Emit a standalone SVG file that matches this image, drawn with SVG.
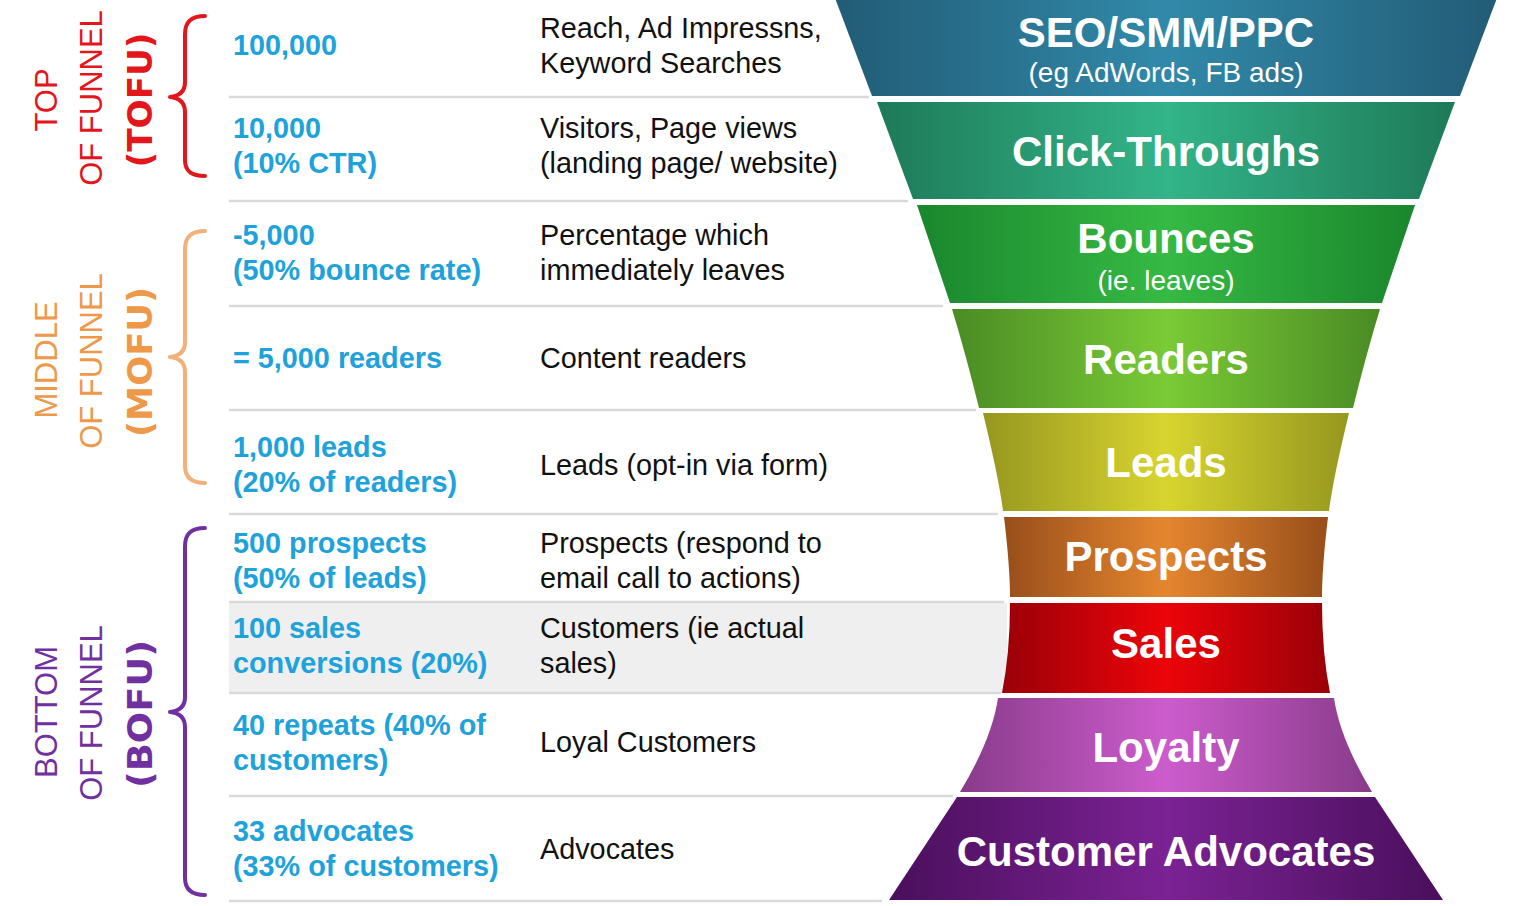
<svg xmlns="http://www.w3.org/2000/svg" width="1520" height="906" viewBox="0 0 1520 906">
<style>
.bg{fill:#ffffff}
.sep{stroke:#d9d9d9;stroke-width:2.5;fill:none}
.num{font-family:"Liberation Sans",Arial,sans-serif;font-weight:bold;font-size:28.8px;fill:#1ea2dc}
.desc{font-family:"Liberation Sans",Arial,sans-serif;font-size:28.8px;fill:#111111}
.ft{font-family:"Liberation Sans",Arial,sans-serif;font-weight:bold;font-size:42px;fill:#ffffff;text-anchor:middle}
.fs{font-family:"Liberation Sans",Arial,sans-serif;font-size:28px;fill:#ffffff;text-anchor:middle}
.lbl{font-family:"Liberation Sans",Arial,sans-serif;font-size:31px;text-anchor:middle}
.acr{font-family:"DejaVu Sans","Liberation Sans",sans-serif;font-weight:bold;font-size:34px;text-anchor:middle}
.br{fill:none;stroke-width:4;stroke-linecap:round;stroke-linejoin:round}
</style>
<defs>
<linearGradient id="g1" x1="0" y1="0" x2="1" y2="0"><stop offset="0" stop-color="#225c76"/><stop offset="0.5" stop-color="#3189a9"/><stop offset="1" stop-color="#225c76"/></linearGradient>
<linearGradient id="g2" x1="0" y1="0" x2="1" y2="0"><stop offset="0" stop-color="#1e7a58"/><stop offset="0.5" stop-color="#33b489"/><stop offset="1" stop-color="#1e7a58"/></linearGradient>
<linearGradient id="g3" x1="0" y1="0" x2="1" y2="0"><stop offset="0" stop-color="#1a862d"/><stop offset="0.5" stop-color="#36ba44"/><stop offset="1" stop-color="#1a862d"/></linearGradient>
<linearGradient id="g4" x1="0" y1="0" x2="1" y2="0"><stop offset="0" stop-color="#4a8b24"/><stop offset="0.5" stop-color="#7acb36"/><stop offset="1" stop-color="#4a8b24"/></linearGradient>
<linearGradient id="g5" x1="0" y1="0" x2="1" y2="0"><stop offset="0" stop-color="#96971f"/><stop offset="0.5" stop-color="#d8d42f"/><stop offset="1" stop-color="#96971f"/></linearGradient>
<linearGradient id="g6" x1="0" y1="0" x2="1" y2="0"><stop offset="0" stop-color="#984e1a"/><stop offset="0.5" stop-color="#e5862f"/><stop offset="1" stop-color="#984e1a"/></linearGradient>
<linearGradient id="g7" x1="0" y1="0" x2="1" y2="0"><stop offset="0" stop-color="#9a0008"/><stop offset="0.5" stop-color="#ec0409"/><stop offset="1" stop-color="#9a0008"/></linearGradient>
<linearGradient id="g8" x1="0" y1="0" x2="1" y2="0"><stop offset="0" stop-color="#883b8a"/><stop offset="0.5" stop-color="#cd5ccd"/><stop offset="1" stop-color="#883b8a"/></linearGradient>
<linearGradient id="g9" x1="0" y1="0" x2="1" y2="0"><stop offset="0" stop-color="#4a0f5c"/><stop offset="0.5" stop-color="#7b2294"/><stop offset="1" stop-color="#4a0f5c"/></linearGradient>
</defs>
<rect class="bg" x="0" y="0" width="1520" height="906"/>

<!-- gray band for sales row -->
<rect x="229" y="603" width="778" height="90" fill="#efefef"/>

<g id="connectors">
<line class="sep" x1="229" y1="97" x2="869" y2="97"/>
<line class="sep" x1="229" y1="201" x2="908" y2="201"/>
<line class="sep" x1="229" y1="306" x2="943" y2="306"/>
<line class="sep" x1="229" y1="410" x2="976" y2="410"/>
<line class="sep" x1="229" y1="514" x2="998" y2="514"/>
<line class="sep" x1="229" y1="602" x2="1004" y2="602"/>
<line class="sep" x1="229" y1="693" x2="1001" y2="693"/>
<line class="sep" x1="229" y1="796" x2="953" y2="796"/>
<line class="sep" x1="229" y1="901" x2="882" y2="901"/>
</g>

<!-- stage labels -->
<g id="tofu">
<path class="br" stroke="#e3161c" d="M205,16 C191,16 185,22 185,34 L185,82 C185,91 180,96 170,97 C180,98 185,103 185,112 L185,160 C185,171 191,176 205,176"/>
<text class="lbl" fill="#e3161c" transform="translate(57,100) rotate(-90)">TOP</text>
<text class="lbl" fill="#e3161c" transform="translate(102,98) rotate(-90)">OF FUNNEL</text>
<text class="acr" fill="#e3161c" transform="translate(152,100) rotate(-90)" textLength="135" lengthAdjust="spacingAndGlyphs">(TOFU)</text>
</g>
<g id="mofu">
<path class="br" stroke="#f4b07a" d="M205,231 C191,231 185,237 185,249 L185,342 C185,351 180,356 170,357 C180,358 185,363 185,372 L185,466 C185,477 191,483 205,483"/>
<text class="lbl" fill="#ee984a" transform="translate(57,360) rotate(-90)">MIDDLE</text>
<text class="lbl" fill="#ee984a" transform="translate(102,361) rotate(-90)">OF FUNNEL</text>
<text class="acr" fill="#ee984a" transform="translate(152,362) rotate(-90)" textLength="150" lengthAdjust="spacingAndGlyphs">(MOFU)</text>
</g>
<g id="bofu">
<path class="br" stroke="#7030a0" d="M205,528 C191,528 185,534 185,546 L185,697 C185,706 180,711 170,712 C180,713 185,718 185,727 L185,878 C185,889 191,895 205,895"/>
<text class="lbl" fill="#7030a0" transform="translate(57,712) rotate(-90)">BOTTOM</text>
<text class="lbl" fill="#7030a0" transform="translate(102,713) rotate(-90)">OF FUNNEL</text>
<text class="acr" fill="#7030a0" transform="translate(152,714) rotate(-90)" textLength="148" lengthAdjust="spacingAndGlyphs">(BOFU)</text>
</g>

<!-- rows -->
<g id="row1">
<text class="num" x="233" y="55">100,000</text>
<text class="desc" x="540" y="38">Reach, Ad Impressns,</text>
<text class="desc" x="540" y="73">Keyword Searches</text>
</g>
<g id="row2">
<text class="num" x="233" y="138">10,000</text>
<text class="num" x="233" y="173">(10% CTR)</text>
<text class="desc" x="540" y="138">Visitors, Page views</text>
<text class="desc" x="540" y="173">(landing page/ website)</text>
</g>
<g id="row3">
<text class="num" x="233" y="245">-5,000</text>
<text class="num" x="233" y="280">(50% bounce rate)</text>
<text class="desc" x="540" y="245">Percentage which</text>
<text class="desc" x="540" y="280">immediately leaves</text>
</g>
<g id="row4">
<text class="num" x="233" y="368">= 5,000 readers</text>
<text class="desc" x="540" y="368">Content readers</text>
</g>
<g id="row5">
<text class="num" x="233" y="457">1,000 leads</text>
<text class="num" x="233" y="492">(20% of readers)</text>
<text class="desc" x="540" y="475">Leads (opt-in via form)</text>
</g>
<g id="row6">
<text class="num" x="233" y="553">500 prospects</text>
<text class="num" x="233" y="588">(50% of leads)</text>
<text class="desc" x="540" y="553">Prospects (respond to</text>
<text class="desc" x="540" y="588">email call to actions)</text>
</g>
<g id="row7">
<text class="num" x="233" y="638">100 sales</text>
<text class="num" x="233" y="673">conversions (20%)</text>
<text class="desc" x="540" y="638">Customers (ie actual</text>
<text class="desc" x="540" y="673">sales)</text>
</g>
<g id="row8">
<text class="num" x="233" y="735">40 repeats (40% of</text>
<text class="num" x="233" y="770">customers)</text>
<text class="desc" x="540" y="752">Loyal Customers</text>
</g>
<g id="row9">
<text class="num" x="233" y="841">33 advocates</text>
<text class="num" x="233" y="876">(33% of customers)</text>
<text class="desc" x="540" y="859">Advocates</text>
</g>

<!-- funnel -->
<g id="seg1">
<path fill="url(#g1)" d="M835,-2 L1497,-2 L1460,96 L872,96 Z"/>
<text class="ft" x="1166" y="47">SEO/SMM/PPC</text>
<text class="fs" x="1166" y="82">(eg AdWords, FB ads)</text>
</g>
<g id="seg2">
<path fill="url(#g2)" d="M877,102 L1455,102 L1419,199 L913,199 Z"/>
<text class="ft" x="1166" y="166">Click-Throughs</text>
</g>
<g id="seg3">
<path fill="url(#g3)" d="M917,205 L1415,205 L1382,303 L950,303 Z"/>
<text class="ft" x="1166" y="253">Bounces</text>
<text class="fs" x="1166" y="290">(ie. leaves)</text>
</g>
<g id="seg4">
<path fill="url(#g4)" d="M952,309 L1380,309 Q1366,355 1353,408 L979,408 Q966,355 952,309 Z"/>
<text class="ft" x="1166" y="374">Readers</text>
</g>
<g id="seg5">
<path fill="url(#g5)" d="M983,413 L1349,413 Q1333,479 1329,511 L1003,511 Q999,479 983,413 Z"/>
<text class="ft" x="1166" y="477">Leads</text>
</g>
<g id="seg6">
<path fill="url(#g6)" d="M1004,517 L1328,517 Q1322,567 1322,597 L1010,597 Q1010,567 1004,517 Z"/>
<text class="ft" x="1166" y="571">Prospects</text>
</g>
<g id="seg7">
<path fill="url(#g7)" d="M1010,603 L1322,603 Q1322,653 1330,693 L1002,693 Q1010,653 1010,603 Z"/>
<text class="ft" x="1166" y="658">Sales</text>
</g>
<g id="seg8">
<path fill="url(#g8)" d="M998,698 L1334,698 Q1340,739 1372,792 L960,792 Q992,739 998,698 Z"/>
<text class="ft" x="1166" y="762">Loyalty</text>
</g>
<g id="seg9">
<path fill="url(#g9)" d="M957,797 L1375,797 L1443,900 L889,900 Z"/>
<text class="ft" x="1166" y="866">Customer Advocates</text>
</g>
</svg>
